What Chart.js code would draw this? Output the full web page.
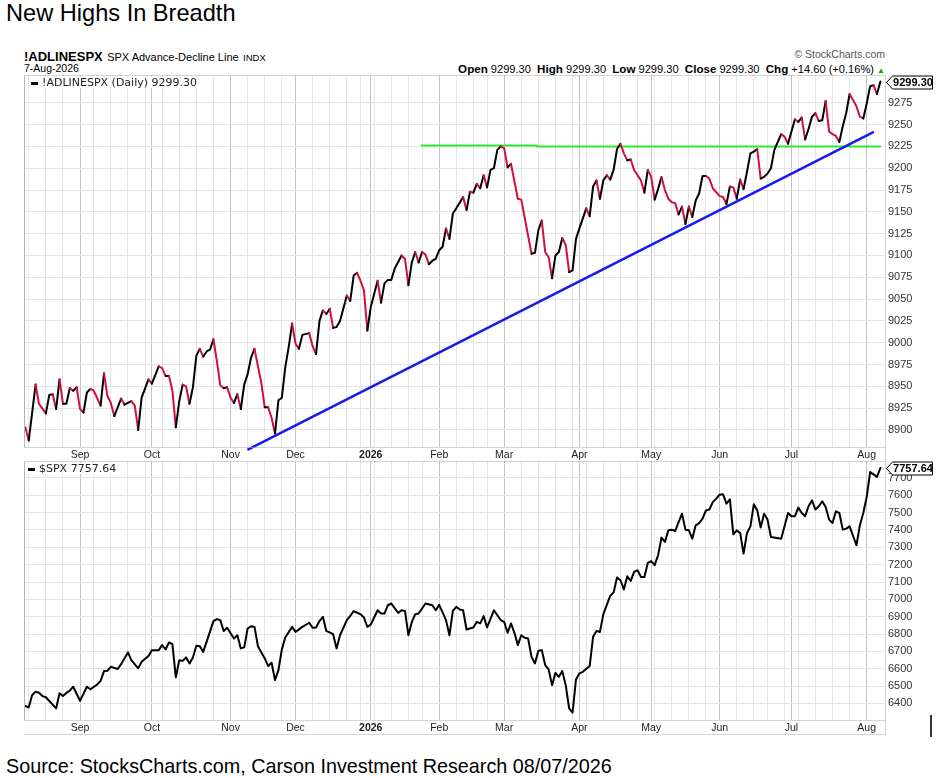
<!DOCTYPE html>
<html>
<head>
<meta charset="utf-8">
<title>New Highs In Breadth</title>
<script src="https://cdn.jsdelivr.net/npm/chart.js@4.4.1/dist/chart.umd.min.js"></script>
<style>
  body { margin: 0; width: 936px; height: 778px; background: #fff; position: relative; overflow: hidden;
         font-family: "Liberation Sans", Arial, sans-serif; color: #000; }
  .abs { position: absolute; white-space: nowrap; line-height: 1; }
  canvas { position: absolute; left: 0; }
  #title { left: 6px; top: 2px; font-size: 23.6px; }
  #head { left: 24px; top: 48px; }
  #head b { font-size: 13px; }
  #date { left: 24px; top: 63px; font-size: 10.5px; }
  #copy { right: 51px; top: 49px; font-size: 10.5px; color: #555; }
  #ohlc { right: 51px; top: 62.5px; font-size: 11.1px; }
  #ohlc b { font-size: 11.6px; }
  #ohlc .up { color: #1a9a1a; font-size: 8px; }
  .legend { font-family: "DejaVu Sans", Verdana, sans-serif; font-size: 11px; color: #222; background: #fff; padding-right: 3px; }
  .legend i { display: inline-block; width: 7px; height: 3px; background: #000; vertical-align: middle; margin-right: 4px; }
  #leg1 { left: 31px; top: 77px; }
  #leg2 { left: 28px; top: 463px; }
  #source { left: 6px; top: 757px; font-size: 19.8px; }
  #cut { position: absolute; left: 930px; top: 715px; width: 2px; height: 22px; background: #333; }
</style>
</head>
<body>
<div id="title" class="abs">New Highs In Breadth</div>
<div id="head" class="abs"><b>!ADLINESPX</b> <span style="font-size:11px">SPX Advance-Decline Line</span> <span style="font-size:9.5px">INDX</span></div>
<div id="date" class="abs">7-Aug-2026</div>
<div id="copy" class="abs">&copy; StockCharts.com</div>
<div id="ohlc" class="abs"><b>Open</b> 9299.30 &nbsp;<b>High</b> 9299.30 &nbsp;<b>Low</b> 9299.30 &nbsp;<b>Close</b> 9299.30 &nbsp;<b>Chg</b> +14.60 (+0.16%) <span class="up">&#9650;</span></div>

<canvas id="adChart" width="936" height="391" style="top:70px"></canvas>
<canvas id="spxChart" width="936" height="286" style="top:456px"></canvas>

<div id="leg1" class="abs legend"><i></i>!ADLINESPX (Daily) 9299.30</div>
<div id="leg2" class="abs legend"><i></i>$SPX 7757.64</div>
<div id="source" class="abs">Source: StocksCharts.com, Carson Investment Research 08/07/2026</div>
<div id="cut"></div>

<script>
// trading calendar, 7-Aug-2025 .. 7-Aug-2026 (x values below are trading-day numbers)
const holidays = ["2025-09-01", "2025-11-27", "2025-12-25", "2026-01-01", "2026-01-19",
  "2026-02-16", "2026-04-03", "2026-05-25", "2026-06-19", "2026-07-03"];
const monthLabels = ["Sep", "Oct", "Nov", "Dec", "2026", "Feb", "Mar", "Apr", "May", "Jun", "Jul", "Aug"];

// !ADLINESPX daily
const adDay = [
  1, 2, 4, 5, 7, 8, 9, 10, 11, 12,
  13, 14, 15, 16, 17, 18, 19, 20, 21, 23,
  24, 25, 26, 27, 29, 30, 32, 33, 34, 35,
  37, 38, 40, 41, 42, 43, 44, 45, 46, 47,
  48, 49, 50, 51, 52, 53, 54, 55, 56, 57,
  58, 59, 60, 61, 62, 63, 64, 65, 66, 67,
  68, 70, 71, 72, 73, 74, 75, 76, 77, 78,
  79, 80, 81, 82, 84, 85, 86, 87, 88, 89,
  90, 91, 92, 93, 95, 96, 97, 98, 99, 100,
  101, 102, 104, 105, 106, 107, 108, 109, 111, 112,
  113, 114, 115, 116, 117, 118, 119, 120, 121, 122,
  123, 124, 125, 126, 127, 129, 130, 131, 132, 133,
  134, 135, 136, 137, 138, 139, 140, 141, 142, 143,
  145, 146, 149, 150, 151, 152, 153, 154, 155, 156,
  157, 158, 159, 160, 161, 162, 163, 165, 166, 167,
  168, 169, 170, 171, 172, 173, 174, 175, 176, 177,
  178, 179, 180, 181, 182, 183, 184, 185, 186, 187,
  188, 189, 190, 191, 192, 193, 194, 195, 196, 197,
  198, 199, 200, 201, 202, 204, 205, 206, 207, 208,
  209, 210, 211, 212, 213, 214, 215, 216, 217, 218,
  219, 220, 222, 223, 224, 225, 226, 227, 228, 229,
  230, 231, 232, 233, 234, 235, 236, 237, 238, 239,
  240, 241, 242, 244, 245, 246, 247, 248, 249, 250,
  251
];
const adLine = [
  8903, 8888, 8952, 8930, 8919, 8940, 8941, 8924, 8958, 8930,
  8930, 8948, 8945, 8949, 8924, 8920, 8943, 8947, 8945, 8928,
  8965, 8939, 8931, 8916, 8936, 8929, 8933, 8928, 8900, 8937,
  8958, 8953, 8973, 8971, 8962, 8962, 8945, 8903, 8933, 8952,
  8950, 8930, 8949, 8985, 8993, 8984, 8990, 8992, 9004, 8979,
  8951, 8948, 8949, 8937, 8931, 8941, 8924, 8952, 8964, 8983,
  8993, 8954, 8926, 8926, 8914, 8896, 8934, 8937, 8972, 8995,
  9022, 8999, 8993, 9009, 9011, 8996, 8987, 9025, 9037, 9033,
  9039, 9017, 9018, 9025, 9054, 9048, 9077, 9080, 9071, 9060,
  9014, 9041, 9071, 9046, 9068, 9072, 9072, 9085, 9100, 9096,
  9066, 9092, 9104, 9092, 9104, 9101, 9090, 9094, 9096, 9106,
  9110, 9131, 9119, 9148, 9154, 9167, 9152, 9173, 9172, 9182,
  9177, 9192, 9178, 9198, 9200, 9221, 9225, 9223, 9201, 9205,
  9165, 9164, 9102, 9103, 9129, 9140, 9104, 9098, 9074, 9100,
  9104, 9120, 9112, 9081, 9083, 9119, 9131, 9154, 9145, 9179,
  9186, 9165, 9186, 9192, 9187, 9198, 9222, 9228, 9217, 9209,
  9210, 9198, 9192, 9186, 9172, 9198, 9190, 9164, 9176, 9190,
  9175, 9165, 9161, 9160, 9147, 9156, 9136, 9156, 9144, 9163,
  9171, 9191, 9191, 9188, 9177, 9168, 9167, 9159, 9179, 9178,
  9165, 9187, 9176, 9196, 9217, 9219, 9222, 9188, 9190, 9194,
  9200, 9221, 9239, 9236, 9228, 9242, 9256, 9253, 9258, 9233,
  9245, 9259, 9263, 9254, 9255, 9277, 9242, 9239, 9237, 9230,
  9248, 9263, 9285, 9271, 9259, 9257, 9274, 9294, 9295, 9285,
  9299.30
];

// drawn trend lines on the A-D panel (ends as trading day / value)
const resistDay1 = [116.9, 150.6];
const resistVal1 = [9226, 9226];
const resistDay2 = [150.6, 250.9];
const resistVal2 = [9224.8, 9224.8];
const supportDay = [66.2, 248.8];
const supportVal = [8877.8, 9241];

// $SPX daily
const spxDay = [
  1, 2, 3, 4, 5, 6, 7, 10, 11, 12,
  13, 14, 15, 17, 19, 20, 22, 23, 24, 25,
  26, 28, 29, 31, 32, 34, 35, 37, 38, 40,
  41, 42, 43, 44, 45, 46, 47, 48, 49, 50,
  51, 52, 53, 54, 56, 57, 58, 59, 60, 62,
  63, 64, 65, 66, 67, 68, 69, 71, 72, 73,
  74, 75, 76, 77, 79, 80, 82, 84, 85, 86,
  87, 88, 89, 91, 92, 93, 95, 96, 97, 99,
  100, 101, 102, 104, 105, 106, 107, 108, 110, 111,
  112, 113, 114, 115, 116, 118, 120, 121, 122, 124,
  125, 126, 127, 128, 129, 130, 132, 133, 134, 135,
  136, 138, 140, 141, 142, 143, 144, 145, 146, 147,
  148, 149, 150, 151, 152, 153, 154, 155, 156, 157,
  158, 159, 160, 161, 162, 163, 164, 166, 167, 168,
  169, 170, 172, 173, 174, 175, 176, 177, 178, 179,
  180, 181, 182, 183, 184, 185, 186, 187, 188, 189,
  190, 191, 192, 193, 194, 195, 196, 197, 198, 199,
  200, 201, 202, 203, 204, 205, 206, 207, 208, 209,
  210, 211, 212, 213, 214, 215, 216, 217, 218, 219,
  222, 224, 225, 226, 227, 228, 229, 230, 231, 232,
  233, 234, 235, 236, 237, 238, 239, 240, 241, 242,
  244, 245, 246, 247, 248, 249, 250, 251
];
const spxClose = [
  6385, 6377, 6448, 6467, 6461, 6442, 6435, 6371, 6458, 6442,
  6460, 6473, 6496, 6415, 6496, 6481, 6509, 6530, 6586, 6588,
  6611, 6598, 6626, 6694, 6649, 6602, 6640, 6673, 6707, 6707,
  6736, 6711, 6751, 6742, 6550, 6649, 6645, 6665, 6630, 6665,
  6732, 6730, 6697, 6755, 6874, 6886, 6880, 6817, 6836, 6774,
  6793, 6717, 6723, 6832, 6845, 6841, 6730, 6659, 6615, 6634,
  6534, 6592, 6711, 6780, 6841, 6812, 6841, 6865, 6836, 6838,
  6875, 6899, 6818, 6799, 6717, 6793, 6880, 6905, 6932, 6914,
  6895, 6841, 6855, 6937, 6918, 6918, 6966, 6976, 6922, 6937,
  6933, 6793, 6870, 6914, 6918, 6976, 6966, 6937, 6968, 6880,
  6793, 6933, 6957, 6941, 6937, 6826, 6838, 6870, 6861, 6903,
  6838, 6937, 6880, 6870, 6807, 6861, 6807, 6736, 6793, 6778,
  6774, 6668, 6630, 6703, 6707, 6621, 6596, 6505, 6576, 6553,
  6586, 6505, 6371, 6346, 6538, 6573, 6582, 6615, 6784, 6818,
  6812, 6915, 7020, 7040, 7126, 7110, 7057, 7133, 7106, 7158,
  7168, 7129, 7129, 7210, 7221, 7197, 7254, 7356, 7331, 7398,
  7402, 7394, 7446, 7494, 7402, 7398, 7350, 7427, 7440, 7466,
  7513, 7518, 7561, 7581, 7604, 7606, 7552, 7577, 7375, 7398,
  7383, 7264, 7383, 7421, 7548, 7513, 7414, 7494, 7460, 7360,
  7350, 7498, 7479, 7479, 7529, 7498, 7479, 7537, 7571, 7518,
  7537, 7565, 7533, 7460, 7440, 7508, 7498, 7402, 7408, 7421,
  7312, 7427, 7498, 7590, 7734, 7721, 7706, 7757.64
];

const adTicks = [8900, 8925, 8950, 8975, 9000, 9025, 9050, 9075, 9100, 9125, 9150, 9175, 9200, 9225, 9250, 9275];
const spxTicks = [6400, 6500, 6600, 6700, 6800, 6900, 7000, 7100, 7200, 7300, 7400, 7500, 7600, 7700];

const black = "#000000";
const red = "#d0103c";

// build trading days, month starts and week starts
const tradingDays = [];
for (let t = Date.UTC(2025, 7, 7); t <= Date.UTC(2026, 7, 7); t += 86400000) {
  const d = new Date(t);
  const dow = d.getUTCDay();
  if (dow === 0 || dow === 6 || holidays.includes(d.toISOString().slice(0, 10))) continue;
  tradingDays.push(d);
}
const monthStart = {};
const xTicks = [];
let m = 0;
tradingDays.forEach((d, i) => {
  if (i === 0) return;
  const prev = tradingDays[i - 1];
  if (d.getUTCMonth() !== prev.getUTCMonth()) {
    monthStart[i] = monthLabels[m++];
    xTicks.push(i);
  } else if (d.getUTCDay() < prev.getUTCDay()) {
    xTicks.push(i);
  }
});

function points(xs, ys) {
  return xs.map((x, i) => ({ x: x, y: ys[i] }));
}

// boxed last value on the right axis
const lastTag = {
  id: "lastTag",
  afterDraw(chart, args, opts) {
    const ctx = chart.ctx;
    const y = Math.round(chart.scales.y.getPixelForValue(opts.value)) + 0.5;
    const x0 = chart.chartArea.right + 1.5;
    ctx.save();
    ctx.beginPath();
    ctx.moveTo(x0, y);
    ctx.lineTo(x0 + 6, y - 6.5);
    ctx.lineTo(x0 + 46, y - 6.5);
    ctx.lineTo(x0 + 46, y + 6.5);
    ctx.lineTo(x0 + 6, y + 6.5);
    ctx.closePath();
    ctx.fillStyle = "#fff";
    ctx.fill();
    ctx.strokeStyle = "#000";
    ctx.lineWidth = 1;
    ctx.stroke();
    ctx.fillStyle = "#000";
    ctx.font = "bold 11px 'Liberation Sans', Arial";
    ctx.textBaseline = "middle";
    ctx.textAlign = "center";
    ctx.fillText(opts.text, x0 + 26.5, y + 0.5);
    ctx.restore();
  }
};

// panel frame: solid left edge, dotted elsewhere, plus the date band
const panelFrame = {
  id: "panelFrame",
  afterDraw(chart) {
    const ctx = chart.ctx;
    const a = chart.chartArea;
    const band = Math.round(chart.scales.x.top + 14) + 0.5;
    const l = Math.round(a.left) + 0.5, r = Math.round(a.right) + 0.5;
    const t = Math.round(a.top) + 0.5, b = Math.round(a.bottom) + 0.5;
    ctx.save();
    ctx.lineWidth = 1;
    ctx.strokeStyle = "#a8a8a8";
    ctx.setLineDash([1, 1]);
    ctx.beginPath();
    ctx.moveTo(l, t); ctx.lineTo(r, t);
    ctx.moveTo(r, t); ctx.lineTo(r, band);
    ctx.moveTo(l, b); ctx.lineTo(r, b);
    ctx.moveTo(l, band); ctx.lineTo(r, band);
    ctx.stroke();
    ctx.setLineDash([]);
    ctx.strokeStyle = "#b4b4b4";
    ctx.beginPath();
    ctx.moveTo(l, t); ctx.lineTo(l, b);
    ctx.stroke();
    ctx.restore();
  }
};

function xScale() {
  return {
    type: "linear",
    position: "bottom",
    min: 0.61,
    max: 252.35,
    afterBuildTicks: (scale) => { scale.ticks = xTicks.map((v) => ({ value: v })); },
    afterFit: (scale) => {
      scale.height = scale.chart.canvas.id === "adChart" ? 14 : 22;
      scale.paddingLeft = 0;
      scale.paddingRight = 0;
    },
    ticks: {
      autoSkip: false,
      maxRotation: 0,
      padding: 2,
      color: "#222",
      font: (c) => ({ family: "'Liberation Sans', Arial", size: 10.5,
        weight: c.tick && monthStart[c.tick.value] === "2026" ? "bold" : "normal" }),
      callback: (v) => monthStart[v] || ""
    },
    grid: {
      drawTicks: false,
      color: (c) => (c.tick && monthStart[c.tick.value] ? "#c4c4c4" : "#e6e6e6")
    },
    border: { display: false }
  };
}

function yScale(min, max, ticks) {
  return {
    type: "linear",
    position: "right",
    min: min,
    max: max,
    afterBuildTicks: (scale) => { scale.ticks = ticks.map((v) => ({ value: v })); },
    afterFit: (scale) => {
      scale.width = 51;
      scale.paddingTop = 0;
      scale.paddingBottom = 0;
    },
    ticks: {
      padding: 3,
      color: "#333",
      font: { family: "'Liberation Sans', Arial", size: 11 },
      callback: (v) => String(v)
    },
    grid: { drawTicks: false, color: "#e4e4e4" },
    border: { display: false }
  };
}

const common = {
  responsive: false,
  animation: false,
  layout: { padding: { left: 24, top: 5, right: 0, bottom: 0 } },
  elements: { point: { radius: 0 }, line: { tension: 0, borderJoinStyle: "round", borderCapStyle: "round" } },
  events: []
};

new Chart(document.getElementById("adChart"), {
  type: "line",
  data: {
    datasets: [
      {
        data: points(adDay, adLine),
        borderWidth: 2,
        borderColor: black,
        segment: { borderColor: (c) => (c.p1.parsed.y < c.p0.parsed.y ? red : black) }
      },
      { data: points(supportDay, supportVal), borderColor: "#1a1aee", borderWidth: 2.5, clip: 4 },
      { data: points(resistDay1, resistVal1), borderColor: "#2ee82e", borderWidth: 2 },
      { data: points(resistDay2, resistVal2), borderColor: "#2ee82e", borderWidth: 2 }
    ]
  },
  options: Object.assign({}, common, {
    scales: { x: xScale(), y: yScale(8880.5, 9306.8, adTicks) },
    plugins: { legend: { display: false }, tooltip: { enabled: false },
      lastTag: { value: 9299.30, text: "9299.30" } }
  }),
  plugins: [panelFrame, lastTag]
});

new Chart(document.getElementById("spxChart"), {
  type: "line",
  data: {
    datasets: [
      { data: points(spxDay, spxClose), borderColor: black, borderWidth: 2 }
    ]
  },
  options: Object.assign({}, common, {
    scales: { x: xScale(), y: yScale(6304, 7798, spxTicks) },
    plugins: { legend: { display: false }, tooltip: { enabled: false },
      lastTag: { value: 7757.64, text: "7757.64" } }
  }),
  plugins: [panelFrame, lastTag]
});
</script>
</body>
</html>
